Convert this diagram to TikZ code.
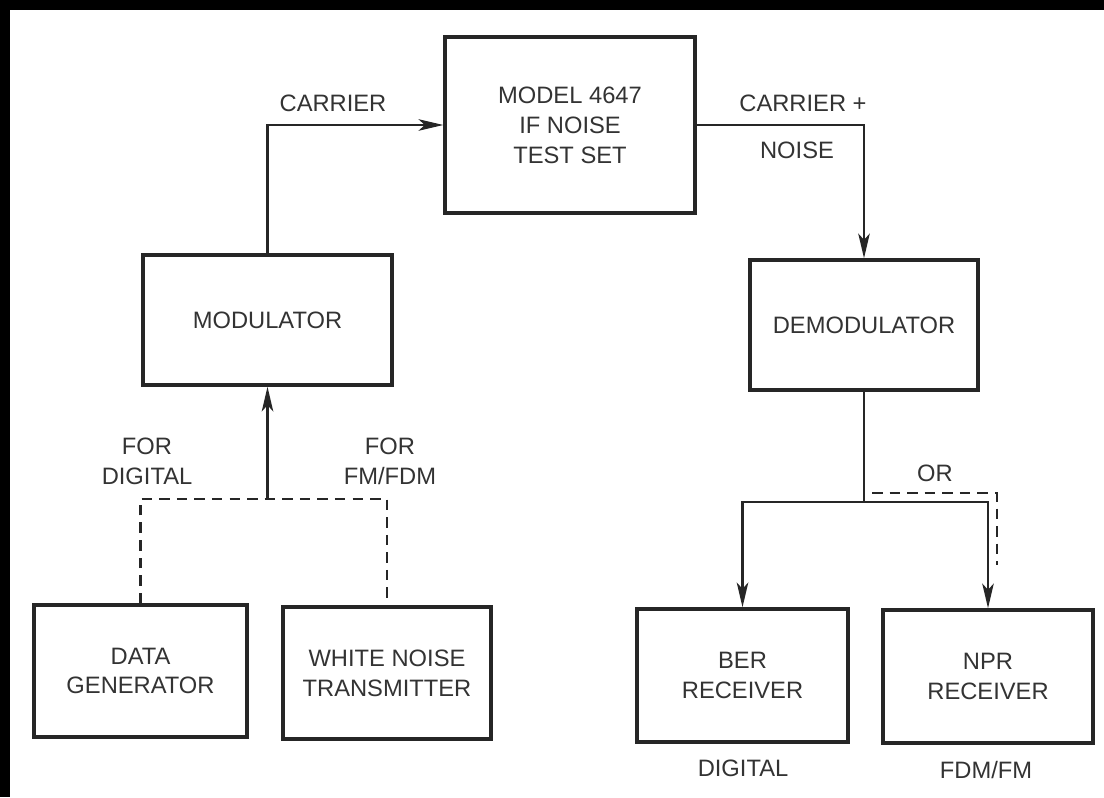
\documentclass[tikz,border=0pt]{standalone}
\usepackage{fontspec}
\setmainfont{Liberation Sans}
\usepackage{tikz}
\usetikzlibrary{arrows.meta,positioning}
\tikzset{
  test-block/.style={draw=black!85, line width=2pt, align=center, text=black!80,
    font=\fontsize{13.5}{17}\selectfont, inner sep=2pt},
  test-label/.style={align=center, text=black!80, font=\fontsize{13.5}{17}\selectfont, inner sep=1pt},
  test-link/.style={draw=black!85, line width=1.6pt},
  test-alt/.style={test-link, dash pattern=on 6pt off 4pt}
}

\begin{document}
\begin{tikzpicture}[x=0.02cm, y=-0.02cm, >={Stealth[length=14pt,width=6.5pt,inset=3.5pt]}]
  \fill[white] (0,0) rectangle (1104,797);
  \useasboundingbox (0,0) rectangle (1104,797);
  \fill[black] (0,0) rectangle (1104,10);
  \fill[black] (0,0) rectangle (10,797);
  \node[test-block, minimum width=5.0cm, minimum height=3.52cm] (testset) at (570,125) {MODEL 4647\\IF NOISE\\TEST SET};
  \node[test-block, minimum width=4.98cm, minimum height=2.6cm] (modulator) at (267.5,320) {MODULATOR};
  \node[test-block, minimum width=4.56cm, minimum height=2.6cm] (demodulator) at (864,325) {DEMODULATOR};
  \node[test-block, minimum width=4.26cm, minimum height=2.64cm] (datagen) at (140.5,671) {DATA\\GENERATOR};
  \node[test-block, minimum width=4.16cm, minimum height=2.64cm] (whitenoise) at (387,673) {WHITE NOISE\\TRANSMITTER};
  \node[test-block, minimum width=4.22cm, minimum height=2.66cm] (berrx) at (742.5,675.5) {BER\\RECEIVER};
  \node[test-block, minimum width=4.2cm, minimum height=2.66cm] (nprrx) at (988,676.5) {NPR\\RECEIVER};
  \node[test-label] (carrier-in) at (333,103) {CARRIER};
  \node[test-label] (carrier-out) at (803,103) {CARRIER +};
  \node[test-label] (noise-out) at (797,150) {NOISE};
  \node[test-label] (for-digital) at (147,461) {FOR\\DIGITAL};
  \node[test-label] (for-fdm) at (390,461) {FOR\\FM/FDM};
  \node[test-label] (or-label) at (935,473) {OR};
  \node[test-label] (digital-out) at (743,768) {DIGITAL};
  \node[test-label] (fdm-out) at (986,770) {FDM/FM};
  \draw[test-link, ->] (modulator.north) |- (testset.west);
  \draw[test-link, ->] (testset.east) -| (demodulator.north);
  \coordinate (gen-split) at (267.5,499);
  \draw[test-link, ->] (gen-split) -- (modulator.south);
  \draw[test-alt] (datagen.north) |- (gen-split) -| (whitenoise.north);
  \coordinate (rx-split) at (864,502);
  \draw[test-link] (demodulator.south) -- (rx-split);
  \draw[test-link, ->] (rx-split) -| (berrx.north);
  \draw[test-link, ->] (rx-split) -| (nprrx.north);
  \coordinate (or-start) at (872,493);
  \coordinate (or-end) at (997,565);
  \draw[test-alt] (or-start) -| (or-end);
\end{tikzpicture}
\end{document}
